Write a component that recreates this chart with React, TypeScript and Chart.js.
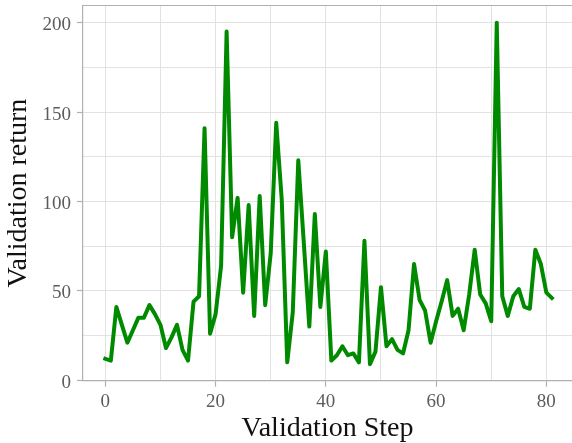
import React, { useEffect, useRef } from "react";
import { Chart, registerables } from "chart.js";

Chart.register(...registerables);

const steps = [
  0, 1, 2, 3, 4, 5, 6, 7, 8, 9, 10, 11, 12, 13, 14, 15, 16, 17, 18, 19, 20,
  21, 22, 23, 24, 25, 26, 27, 28, 29, 30, 31, 32, 33, 34, 35, 36, 37, 38, 39, 40,
  41, 42, 43, 44, 45, 46, 47, 48, 49, 50, 51, 52, 53, 54, 55, 56, 57, 58, 59, 60,
  61, 62, 63, 64, 65, 66, 67, 68, 69, 70, 71, 72, 73, 74, 75, 76, 77, 78, 79, 80, 81,
];

const validationReturn = [
  12, 11, 41, 31, 21, 28, 35, 35, 42, 37, 31, 18, 24, 31, 17, 11, 44, 47, 141, 26, 37,
  64, 195, 80, 102, 49, 98, 36, 103, 42, 71, 144, 101, 10, 38, 123, 77, 30, 93, 41, 72,
  11, 14, 19, 14, 15, 10, 78, 9, 16, 52, 19, 23, 17, 15, 28, 65, 45, 39, 21, 33,
  44, 56, 36, 40, 28, 48, 73, 48, 43, 33, 200, 47, 36, 47, 51, 41, 40, 73, 65, 49, 46,
];

const xTickLabels = [0, 20, 40, 60, 80];
const yTickLabels = [0, 50, 100, 150, 200];

const SERIF = "'Liberation Serif', 'DejaVu Serif', serif";
const TICK_COLOR = "#5c5c5c";
const SPINE_COLOR = "#b0b0b0";
const GRID_COLOR = "#e2e2e2";

const topSpine = {
  id: "topSpine",
  afterDraw(chart: any) {
    const { ctx, chartArea } = chart;
    ctx.save();
    ctx.strokeStyle = SPINE_COLOR;
    ctx.lineWidth = 1.2;
    ctx.beginPath();
    ctx.moveTo(chartArea.left, chartArea.top);
    ctx.lineTo(chartArea.right, chartArea.top);
    ctx.stroke();
    ctx.restore();
  },
};

const zeroPadding = (scale: any) => {
  scale.paddingTop = 0;
  scale.paddingBottom = 0;
  scale.paddingLeft = 0;
  scale.paddingRight = 0;
};

export default function App() {
  const canvasRef = useRef<HTMLCanvasElement | null>(null);

  useEffect(() => {
    if (!canvasRef.current) return;
    const chart = new Chart(canvasRef.current, {
      type: "line",
      data: {
        datasets: [
          {
            data: steps.map((s, i) => ({ x: s, y: validationReturn[i] })),
            borderColor: "#008a00",
            borderWidth: 4,
            pointRadius: 0,
            borderJoinStyle: "round",
            borderCapStyle: "square",
            tension: 0,
            fill: false,
          },
        ],
      },
      plugins: [topSpine],
      options: {
        animation: false,
        responsive: false,
        devicePixelRatio: 1,
        layout: { padding: { top: 5.5, right: 0, bottom: 0, left: 0 } },
        plugins: { legend: { display: false }, tooltip: { enabled: false } },
        scales: {
          x: {
            type: "linear",
            min: -4.05,
            max: 84.65,
            afterFit: (scale: any) => {
              scale.height = 62.3;
              zeroPadding(scale);
            },
            ticks: {
              stepSize: 10,
              includeBounds: false,
              autoSkip: false,
              maxRotation: 0,
              color: TICK_COLOR,
              padding: 4,
              font: { family: SERIF, size: 19 },
              callback: (v: any) => (xTickLabels.includes(Number(v)) ? String(v) : ""),
            },
            grid: {
              color: GRID_COLOR,
              lineWidth: 1,
              tickLength: 6,
              tickColor: (ctx: any) =>
                ctx.tick && xTickLabels.includes(ctx.tick.value) ? SPINE_COLOR : "rgba(0,0,0,0)",
              tickWidth: 1.2,
            },
            border: { color: SPINE_COLOR, width: 1.2 },
            title: {
              display: true,
              text: "Validation Step",
              color: "#111111",
              font: { family: SERIF, size: 28, lineHeight: 1 },
              padding: { top: 0, bottom: 0 },
            },
          },
          y: {
            type: "linear",
            min: -0.25,
            max: 209.6,
            afterFit: (scale: any) => {
              scale.width = 83;
              zeroPadding(scale);
            },
            ticks: {
              stepSize: 25,
              includeBounds: false,
              autoSkip: false,
              color: TICK_COLOR,
              padding: 6,
              labelOffset: 2.5,
              font: { family: SERIF, size: 19 },
              callback: (v: any) => (yTickLabels.includes(Number(v)) ? String(v) : ""),
            },
            grid: {
              color: GRID_COLOR,
              lineWidth: 1,
              tickLength: 6,
              tickColor: (ctx: any) =>
                ctx.tick && yTickLabels.includes(ctx.tick.value) ? SPINE_COLOR : "rgba(0,0,0,0)",
              tickWidth: 1.2,
            },
            border: { color: SPINE_COLOR, width: 1.2 },
            title: {
              display: true,
              text: "Validation return",
              color: "#111111",
              font: { family: SERIF, size: 28, lineHeight: 1 },
              padding: { top: 5, bottom: 0 },
            },
          },
        },
      },
    });
    return () => chart.destroy();
  }, []);

  return (
    <div style={{ position: "fixed", left: 0, top: 0, width: 572, height: 443, background: "#ffffff" }}>
      <canvas ref={canvasRef} width={572} height={443} style={{ display: "block" }} />
    </div>
  );
}
